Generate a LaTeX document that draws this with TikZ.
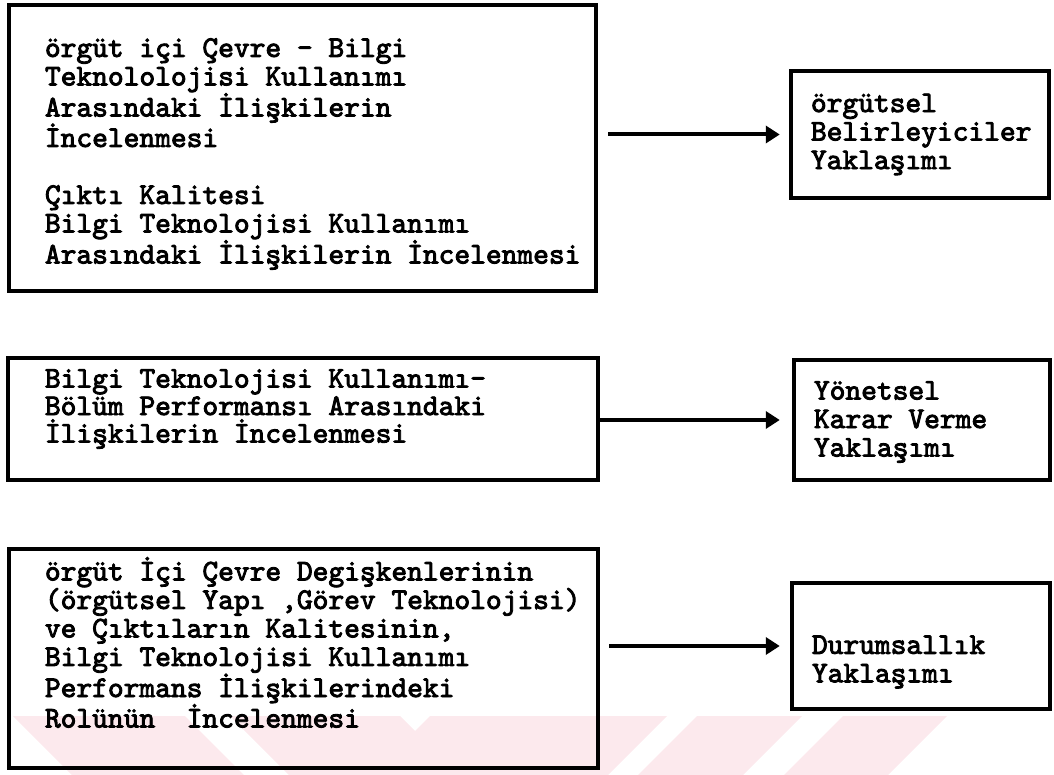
\documentclass[tikz,border=0pt]{standalone}
\usepackage{fontspec}
\newfontfamily\tw{lmmono10-regular}[Extension=.otf, FakeBold=3]
\usetikzlibrary{arrows.meta,calc}
\definecolor{wm}{RGB}{252,233,237}
\tikzset{
  frame/.style={draw, line width=4.5pt, inner sep=0pt},
  txt/.style={anchor=west, inner sep=0pt, align=left,
    font=\tw\fontsize{30}{28.5}\selectfont},
  arr/.style={line width=4pt, -{Triangle[length=14pt,width=17pt]}},
  stripe/.style={fill=wm, draw=none},
}
\begin{document}
\begin{tikzpicture}[x=1pt,y=-1pt]
\useasboundingbox (0,0) rectangle (1054,775);
% faint watermark band
\fill[stripe] (13,716) -- (185,716) -- (244,775) -- (72,775) -- cycle;
\fill[stripe] (230,716) -- (400,716) -- (459,775) -- (289,775) -- cycle;
\fill[stripe] (430,716) -- (667,716) -- (608,775) -- (371,775) -- cycle;
\fill[stripe] (697,716) -- (802,716) -- (743,775) -- (638,775) -- cycle;
\fill[stripe] (843,716) -- (947,716) -- (888,775) -- (784,775) -- cycle;
% boxes
\node[frame, minimum width=587pt, minimum height=286pt] (b1) at (302.5,148) {};
\node[frame, minimum width=590pt, minimum height=122pt] (b2) at (303,419) {};
\node[frame, minimum width=589pt, minimum height=219pt] (b3) at (303.5,658.5) {};
\node[frame, minimum width=258pt, minimum height=127pt] (r1) at (920,134.5) {};
\node[frame, minimum width=256pt, minimum height=120pt] (r2) at (922,420) {};
\node[frame, minimum width=258pt, minimum height=126pt] (r3) at (921,646) {};
% texts
\node[txt] (t1) at ($(b1.west)+(38,6)$) {örgüt içi Çevre - Bilgi\\
Teknololojisi Kullanımı\\
Arasındaki İlişkilerin\\
İncelenmesi\\[28.5pt]
Çıktı Kalitesi\\
Bilgi Teknolojisi Kullanımı\\
Arasındaki İlişkilerin İncelenmesi};
\node[txt, font=\tw\fontsize{30}{27.5}\selectfont] (t2) at ($(b2.west)+(39,-10)$) {Bilgi Teknolojisi Kullanımı-\\
Bölüm Performansı Arasındaki\\
İlişkilerin İncelenmesi};
\node[txt] (t3) at ($(b3.west)+(38,-16)$) {örgüt İçi Çevre Degişkenlerinin\\
(örgütsel Yapı ,Görev Teknolojisi)\\
ve Çıktıların Kalitesinin,\\
Bilgi Teknolojisi Kullanımı\\
Performans İlişkilerindeki\\
Rolünün\ \ İncelenmesi};
\node[txt] (u1) at ($(r1.west)+(22,0)$) {örgütsel\\
Belirleyiciler\\
Yaklaşımı};
\node[txt] (u2) at ($(r2.west)+(22,2)$) {Yönetsel\\
Karar Verme\\
Yaklaşımı};
\node[txt] (u3) at ($(r3.west)+(22,16)$) {Durumsallık\\
Yaklaşımı};
% connectors
\draw[arr, shorten <=10pt, shorten >=9pt] (b1.east |- r1.west) -- (r1.west);
\draw[arr, shorten >=12pt] (b2.east |- r2.west) -- (r2.west);
\draw[arr, shorten <=9pt, shorten >=10pt] (b3.east |- r3.west) -- (r3.west);
\end{tikzpicture}
\end{document}
